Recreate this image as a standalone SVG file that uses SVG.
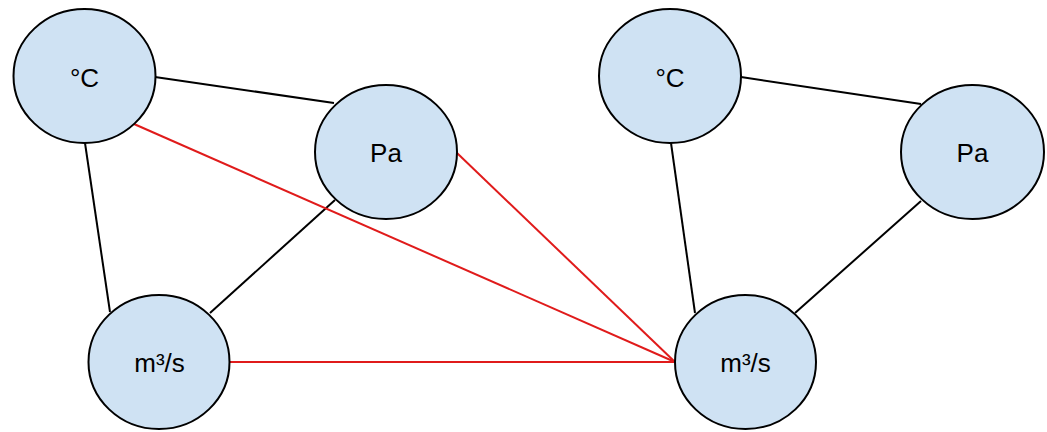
<svg xmlns="http://www.w3.org/2000/svg" width="1047" height="432" viewBox="0 0 1047 432">
<style>
.n{fill:#cfe2f3;stroke:#000;stroke-width:2}
.t{font-family:"Liberation Sans",Arial,sans-serif;font-size:26px;fill:#000;text-anchor:middle}
.k{stroke:#000;stroke-width:2;fill:none}
.r{stroke:#e01b1b;stroke-width:2;fill:none}
</style>
<rect width="1047" height="432" fill="#fff"/>
<g id="connectors">
<line class="k" x1="155" y1="77" x2="334" y2="103"/>
<line class="k" x1="85" y1="143" x2="110" y2="312"/>
<line class="k" x1="335" y1="200" x2="210" y2="313"/>
<line class="k" x1="741" y1="77" x2="921" y2="104"/>
<line class="k" x1="671" y1="143" x2="695" y2="313"/>
<line class="k" x1="921" y1="201" x2="795" y2="313"/>
<line class="r" x1="134" y1="124" x2="675" y2="362"/>
<line class="r" x1="457" y1="153" x2="675" y2="362"/>
<line class="r" x1="229" y1="362" x2="675" y2="362"/>
</g>
<g id="n1"><ellipse class="n" cx="84.5" cy="76" rx="71" ry="67"/><text class="t" x="84.5" y="87">°C</text></g>
<g id="n2"><ellipse class="n" cx="386" cy="152" rx="71" ry="67"/><text class="t" x="386" y="162">Pa</text></g>
<g id="n3"><ellipse class="n" cx="159" cy="362" rx="70.5" ry="67"/><text class="t" x="159.5" y="372">m³/s</text></g>
<g id="n4"><ellipse class="n" cx="670" cy="76" rx="71" ry="67"/><text class="t" x="670" y="87">°C</text></g>
<g id="n5"><ellipse class="n" cx="972.5" cy="152" rx="71.5" ry="67"/><text class="t" x="972.5" y="162">Pa</text></g>
<g id="n6"><ellipse class="n" cx="745.5" cy="362" rx="70.5" ry="67"/><text class="t" x="745.5" y="372">m³/s</text></g>
</svg>
